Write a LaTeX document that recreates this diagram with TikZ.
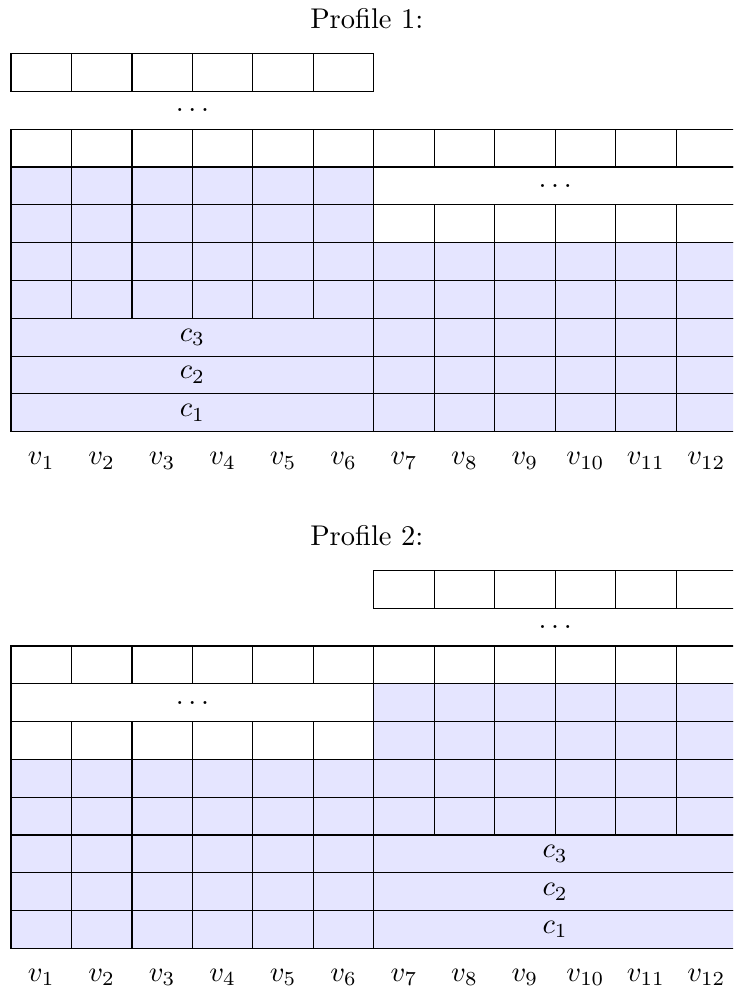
\documentclass[tikz,border=0pt]{standalone}
\begin{document}
\begin{tikzpicture}[x=21.21pt,y=13.26pt,
  whitecell/.style={draw=black, fill=white, line width=0.4pt},
  shadecell/.style={draw=black, fill=blue!10, line width=0.4pt},
  baselbl/.style={anchor=base, inner sep=0pt},
  midlbl/.style={inner sep=1pt}]
\useasboundingbox (-0.182,-14.69) rectangle (11.944,11.42);
\clip (-0.182,-14.69) rectangle (11.944,11.42);

% ---------------- Profile 1 ----------------
\begin{scope}
  \node[baselbl] (p1title) at (5.884,10.67) {Profile 1:};
  % top separate row
  \foreach \x in {0,...,5} \draw[whitecell] (\x,9) rectangle ++(1,1);
  \node[midlbl] (p1dotsA) at (3,8.5) {$\dots$};
  % row 7: all white
  \foreach \x in {0,...,11} \draw[whitecell] (\x,7) rectangle ++(1,1);
  % rows 3-6 left: shaded
  \foreach \r in {3,...,6} \foreach \x in {0,...,5} \draw[shadecell] (\x,\r) rectangle ++(1,1);
  % row 6 right: merged white with dots
  \draw[whitecell] (6,6) rectangle (12,7);
  \node[midlbl] (p1dotsB) at (9,6.5) {$\dots$};
  % row 5 right: white cells
  \foreach \x in {6,...,11} \draw[whitecell] (\x,5) rectangle ++(1,1);
  % rows 0-4 right: shaded
  \foreach \r in {0,...,4} \foreach \x in {6,...,11} \draw[shadecell] (\x,\r) rectangle ++(1,1);
  % rows 0-2 left: merged
  \foreach \r/\c in {0/1,1/2,2/3} {
    \draw[shadecell] (0,\r) rectangle (6,\r+1);
    \node[midlbl] (p1c\c) at (3,\r+0.5) {$c_{\c}$};
  }
  % labels
  \foreach \i in {1,...,12} \node[baselbl] (p1v\i) at (\i-0.5,-0.88) {$v_{\i}$};
\end{scope}

% ---------------- Profile 2 ----------------
\begin{scope}[shift={(0,-13.67)}]
  \node[baselbl] (p2title) at (5.884,10.67) {Profile 2:};
  % top separate row
  \foreach \x in {6,...,11} \draw[whitecell] (\x,9) rectangle ++(1,1);
  \node[midlbl] (p2dotsA) at (9,8.5) {$\dots$};
  % row 7: all white
  \foreach \x in {0,...,11} \draw[whitecell] (\x,7) rectangle ++(1,1);
  % row 6 left: merged white with dots
  \draw[whitecell] (0,6) rectangle (6,7);
  \node[midlbl] (p2dotsB) at (3,6.5) {$\dots$};
  % row 5 left: white cells
  \foreach \x in {0,...,5} \draw[whitecell] (\x,5) rectangle ++(1,1);
  % rows 3-6 right: shaded
  \foreach \r in {3,...,6} \foreach \x in {6,...,11} \draw[shadecell] (\x,\r) rectangle ++(1,1);
  % rows 0-4 left: shaded
  \foreach \r in {0,...,4} \foreach \x in {0,...,5} \draw[shadecell] (\x,\r) rectangle ++(1,1);
  % rows 0-2 right: merged
  \foreach \r/\c in {0/1,1/2,2/3} {
    \draw[shadecell] (6,\r) rectangle (12,\r+1);
    \node[midlbl] (p2c\c) at (9,\r+0.5) {$c_{\c}$};
  }
  % labels
  \foreach \i in {1,...,12} \node[baselbl] (p2v\i) at (\i-0.5,-0.88) {$v_{\i}$};
\end{scope}
\end{tikzpicture}
\end{document}
